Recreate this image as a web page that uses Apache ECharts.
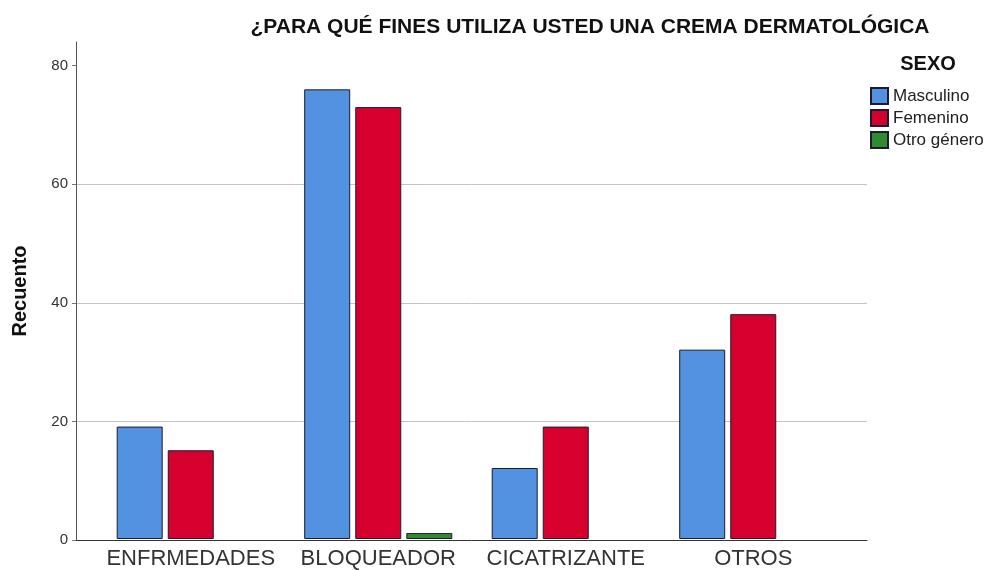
<!DOCTYPE html>
<html>
<head>
<meta charset="utf-8">
<script src="https://cdn.jsdelivr.net/npm/echarts@6/dist/echarts.min.js"></script>
<style>
  html, body { margin: 0; padding: 0; background: #ffffff; }
  #chart { width: 988px; height: 570px; }
</style>
</head>
<body>
<div id="chart"></div>
<script>
// Uses of a dermatological cream, counted by sex
const categories = ['ENFRMEDADES', 'BLOQUEADOR', 'CICATRIZANTE', 'OTROS'];
const seriesNames = ['Masculino', 'Femenino', 'Otro género'];
const masculino = [19, 76, 12, 32];
const femenino = [15, 73, 19, 38];
const otroGenero = [null, 1, null, null];   // no responses outside BLOQUEADOR
const yTicks = [0, 20, 40, 60, 80];

const colors = ['#5392e0', '#d6002e', '#2f8a32'];
const font = '"Liberation Sans", Arial, sans-serif';

const chart = echarts.init(document.getElementById('chart'), null, { renderer: 'canvas' });

const values = [masculino, femenino, otroGenero];

chart.setOption({
  backgroundColor: '#ffffff',
  animation: false,
  textStyle: { fontFamily: font },
  title: [
    {
      text: '¿PARA QUÉ FINES UTILIZA USTED UNA CREMA DERMATOLÓGICA',
      left: 590, top: 17, textAlign: 'center', padding: 0,
      textStyle: { fontFamily: font, fontSize: 21, fontWeight: 'bold', color: '#111' }
    },
    {
      text: 'SEXO',
      left: 928, top: 54, textAlign: 'center', padding: 0,
      textStyle: { fontFamily: font, fontSize: 20, fontWeight: 'bold', color: '#111' }
    }
  ],
  legend: {
    orient: 'vertical',
    left: 870, top: 87, padding: 0,
    itemWidth: 17, itemHeight: 16, itemGap: 4,
    icon: 'rect',
    data: seriesNames,
    textStyle: { fontFamily: font, fontSize: 17, lineHeight: 16, color: '#222' }
  },
  grid: [
    { left: 76, right: 121, top: 42, bottom: 30 },
    { left: 97, right: 141, top: 42, bottom: 30 }
  ],
  xAxis: [
    {
      gridIndex: 0, type: 'value', min: 0, max: 1,
      axisLine: { show: true, lineStyle: { color: '#333', width: 1 } },
      axisTick: { show: false }, axisLabel: { show: false }, splitLine: { show: false }
    },
    {
      gridIndex: 1, type: 'category', data: categories,
      axisLine: { show: false }, axisTick: { show: false },
      axisLabel: { fontFamily: font, fontSize: 22, color: '#333', margin: 9, interval: 0 }
    }
  ],
  yAxis: [
    {
      gridIndex: 0, type: 'value', min: 0, max: 84, interval: 20,
      name: 'Recuento', nameLocation: 'middle', nameGap: 46,
      nameTextStyle: { fontFamily: font, fontSize: 20, fontWeight: 'bold', color: '#111' },
      axisLine: { show: true, lineStyle: { color: '#555', width: 1 } },
      axisTick: { show: true, length: 4, customValues: yTicks, lineStyle: { color: '#777' } },
      axisLabel: { fontFamily: font, fontSize: 15, color: '#333', margin: 8, customValues: yTicks },
      splitLine: { show: true, showMaxLine: false, showMinLine: false, lineStyle: { color: '#c4c4c4', width: 1 } }
    },
    {
      gridIndex: 1, type: 'value', min: 0, max: 84, show: false,
      splitLine: { show: false }
    }
  ],
  series: seriesNames.map((name, i) => ({
    name: name,
    type: 'bar',
    xAxisIndex: 1, yAxisIndex: 1,
    data: values[i],
    barWidth: 46,
    barGap: '11%',
    itemStyle: { color: colors[i], borderColor: '#1c1c2c', borderWidth: 1 }
  }))
});
</script>
</body>
</html>
